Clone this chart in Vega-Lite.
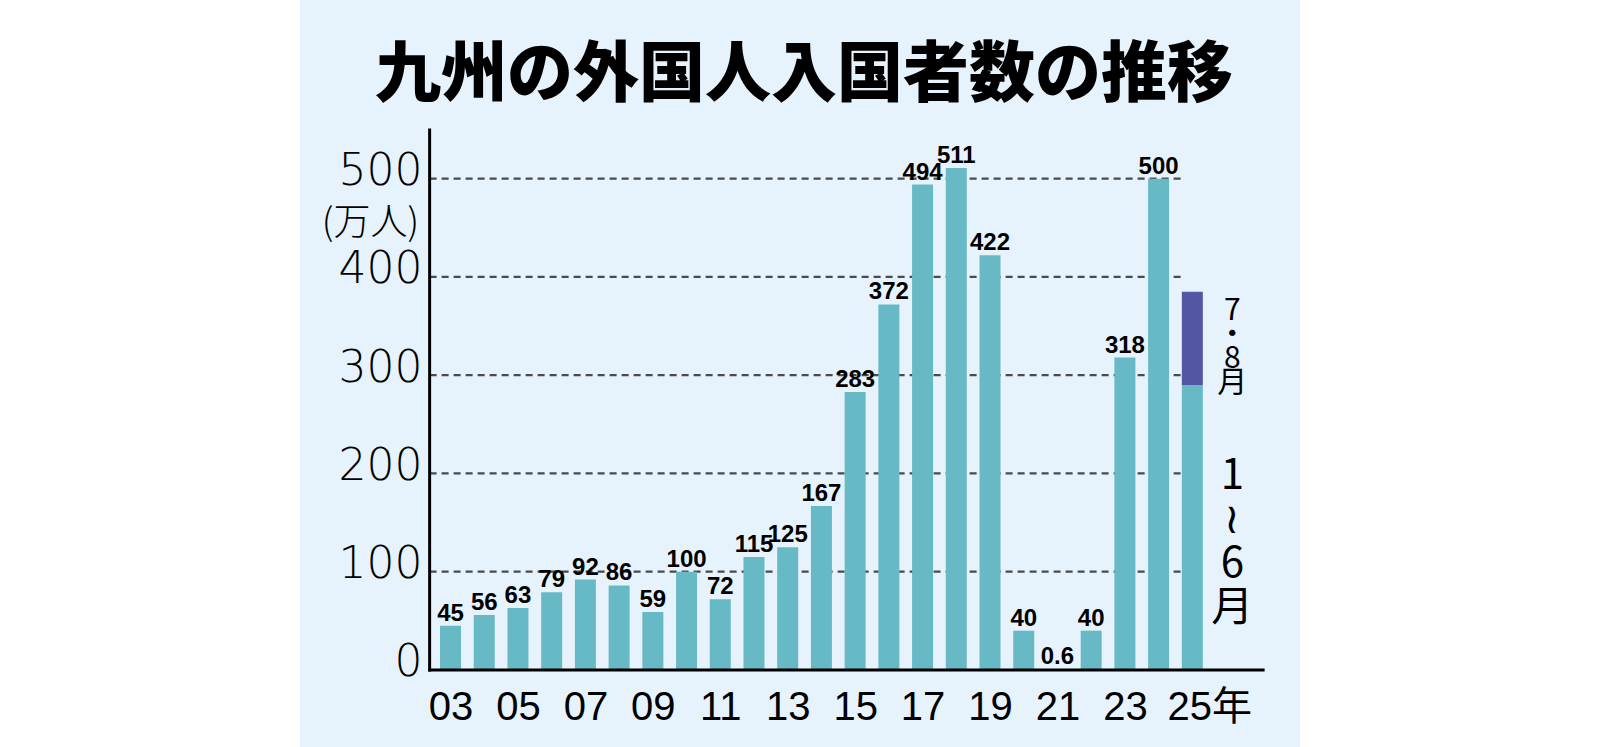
{
  "$schema": "https://vega.github.io/schema/vega-lite/v6.json",
  "width": 1000,
  "height": 747,
  "autosize": {"type": "none"},
  "padding": {"left": 300, "right": 300, "top": 0, "bottom": 0},
  "background": "#ffffff",
  "title": {
    "text": "九州の外国人入国者数の推移",
    "font": "Noto Sans CJK JP",
    "fontSize": 66,
    "fontWeight": 900,
    "color": "#000000",
    "anchor": "middle",
    "offset": -110,
    "dx": 4
  },
  "data": {
    "values": [
      {"year": 2003, "value": 45, "part": "通年", "label": "45"},
      {"year": 2004, "value": 56, "part": "通年", "label": "56"},
      {"year": 2005, "value": 63, "part": "通年", "label": "63"},
      {"year": 2006, "value": 79, "part": "通年", "label": "79"},
      {"year": 2007, "value": 92, "part": "通年", "label": "92"},
      {"year": 2008, "value": 86, "part": "通年", "label": "86"},
      {"year": 2009, "value": 59, "part": "通年", "label": "59"},
      {"year": 2010, "value": 100, "part": "通年", "label": "100"},
      {"year": 2011, "value": 72, "part": "通年", "label": "72"},
      {"year": 2012, "value": 115, "part": "通年", "label": "115"},
      {"year": 2013, "value": 125, "part": "通年", "label": "125"},
      {"year": 2014, "value": 167, "part": "通年", "label": "167"},
      {"year": 2015, "value": 283, "part": "通年", "label": "283"},
      {"year": 2016, "value": 372, "part": "通年", "label": "372"},
      {"year": 2017, "value": 494, "part": "通年", "label": "494"},
      {"year": 2018, "value": 511, "part": "通年", "label": "511"},
      {"year": 2019, "value": 422, "part": "通年", "label": "422"},
      {"year": 2020, "value": 40, "part": "通年", "label": "40"},
      {"year": 2021, "value": 0.6, "part": "通年", "label": "0.6"},
      {"year": 2022, "value": 40, "part": "通年", "label": "40"},
      {"year": 2023, "value": 318, "part": "通年", "label": "318"},
      {"year": 2024, "value": 500, "part": "通年", "label": "500"},
      {"year": 2025, "value": 290, "part": "1〜6月"},
      {"year": 2025, "value": 95, "part": "7・8月"}
    ]
  },
  "layer": [
    {
      "data": {"values": [{"tick": 100}, {"tick": 200}, {"tick": 300}, {"tick": 400}, {"tick": 500}]},
      "mark": {"type": "rule", "stroke": "#4a4a4a", "strokeWidth": 2.2, "strokeDash": [7, 5]},
      "encoding": {
        "x": {"datum": 2002.38, "type": "quantitative", "scale": {"domain": [1998.684, 2028.045], "nice": false, "zero": false}},
        "x2": {"datum": 2024.76},
        "y": {"field": "tick", "type": "quantitative", "scale": {"domain": [-78.4, 681.9], "nice": false, "zero": false}}
      }
    },
    {
      "mark": {"type": "bar", "width": 21},
      "encoding": {
        "x": {
          "field": "year",
          "type": "quantitative",
          "scale": {"domain": [1998.684, 2028.045], "nice": false, "zero": false},
          "axis": {
            "orient": "bottom",
            "offset": -77,
            "domain": false,
            "ticks": false,
            "grid": false,
            "title": null,
            "values": [2003, 2005, 2007, 2009, 2011, 2013, 2015, 2017, 2019, 2021, 2023, 2025],
            "labelExpr": "datum.value === 2025 ? '25年' : format(datum.value % 100, '02d')",
            "labelFont": "Liberation Sans, Noto Sans CJK JP",
            "labelFontSize": 40,
            "labelColor": "#000000",
            "labelPadding": 17,
            "labelOffset": {"condition": {"test": "datum.value === 2025", "value": 17}, "value": 0}
          }
        },
        "y": {
          "field": "value",
          "type": "quantitative",
          "stack": "zero",
          "scale": {"domain": [-78.4, 681.9], "nice": false, "zero": false},
          "axis": {
            "orient": "left",
            "offset": -126,
            "domain": false,
            "ticks": false,
            "grid": false,
            "values": [0, 100, 200, 300, 400, 500],
            "labelFont": "DejaVu Sans",
            "labelFontWeight": 200,
            "labelFontSize": 44,
            "labelColor": "#000000",
            "labelPadding": 4,
            "labelBaseline": "middle",
            "labelOffset": -7,
            "title": "(万人)",
            "titleFont": "Noto Sans CJK JP",
            "titleFontSize": 37,
            "titleFontWeight": 300,
            "titleColor": "#000000",
            "titleAngle": 0,
            "titleAlign": "center",
            "titleBaseline": "middle",
            "titleX": -56,
            "titleY": 223
          }
        },
        "color": {
          "field": "part",
          "type": "nominal",
          "scale": {"domain": ["通年", "1〜6月", "7・8月"], "range": ["#67b9c6", "#67b9c6", "#5356a2"]},
          "legend": null
        },
        "order": {"field": "part", "sort": "ascending"}
      }
    },
    {
      "transform": [{"filter": "isValid(datum.label)"}],
      "mark": {
        "type": "text",
        "font": "Liberation Sans",
        "fontSize": 24,
        "fontWeight": "bold",
        "color": "#000000",
        "baseline": "alphabetic",
        "align": "center",
        "dy": -5
      },
      "encoding": {
        "x": {"field": "year", "type": "quantitative"},
        "y": {"field": "value", "type": "quantitative", "stack": null},
        "text": {"field": "label"}
      }
    },
    {
      "transform": [
        {"filter": "datum.year === 2025"},
        {"stack": "value", "groupby": ["year"], "sort": [{"field": "part", "order": "ascending"}], "as": ["v0", "v1"]},
        {"calculate": "(datum.v0 + datum.v1) / 2", "as": "mid"},
        {"filter": "datum.part === '7・8月'"}
      ],
      "mark": {
        "type": "text",
        "font": "Noto Sans CJK JP",
        "fontSize": 30,
        "lineHeight": 24,
        "color": "#000000",
        "baseline": "middle",
        "align": "center",
        "dx": 40,
        "dy": -27
      },
      "encoding": {
        "x": {"field": "year", "type": "quantitative"},
        "y": {"field": "mid", "type": "quantitative"},
        "text": {"value": ["7", "・", "8", "月"]}
      }
    },
    {
      "transform": [
        {"filter": "datum.year === 2025"},
        {"stack": "value", "groupby": ["year"], "sort": [{"field": "part", "order": "ascending"}], "as": ["v0", "v1"]},
        {"calculate": "(datum.v0 + datum.v1) / 2", "as": "mid"},
        {"filter": "datum.part === '1〜6月'"}
      ],
      "mark": {
        "type": "text",
        "font": "Noto Sans CJK JP",
        "fontSize": 42,
        "lineHeight": 44,
        "color": "#000000",
        "baseline": "middle",
        "align": "center",
        "dx": 40,
        "dy": -52
      },
      "encoding": {
        "x": {"field": "year", "type": "quantitative"},
        "y": {"field": "mid", "type": "quantitative"},
        "text": {"value": ["1", "≀", "6", "月"]}
      }
    },
    {
      "data": {"values": [{}]},
      "mark": {"type": "rule", "stroke": "#000000", "strokeWidth": 3, "strokeCap": "square"},
      "encoding": {
        "x": {"datum": 2002.38, "type": "quantitative"},
        "x2": {"datum": 2027.1},
        "y": {"datum": 0, "type": "quantitative"}
      }
    },
    {
      "data": {"values": [{}]},
      "mark": {"type": "rule", "stroke": "#000000", "strokeWidth": 3, "strokeCap": "square"},
      "encoding": {
        "x": {"datum": 2002.38, "type": "quantitative"},
        "y": {"datum": 0, "type": "quantitative"},
        "y2": {"datum": 549.6}
      }
    }
  ],
  "config": {
    "view": {"fill": "#e7f3fc", "stroke": null}
  }
}
